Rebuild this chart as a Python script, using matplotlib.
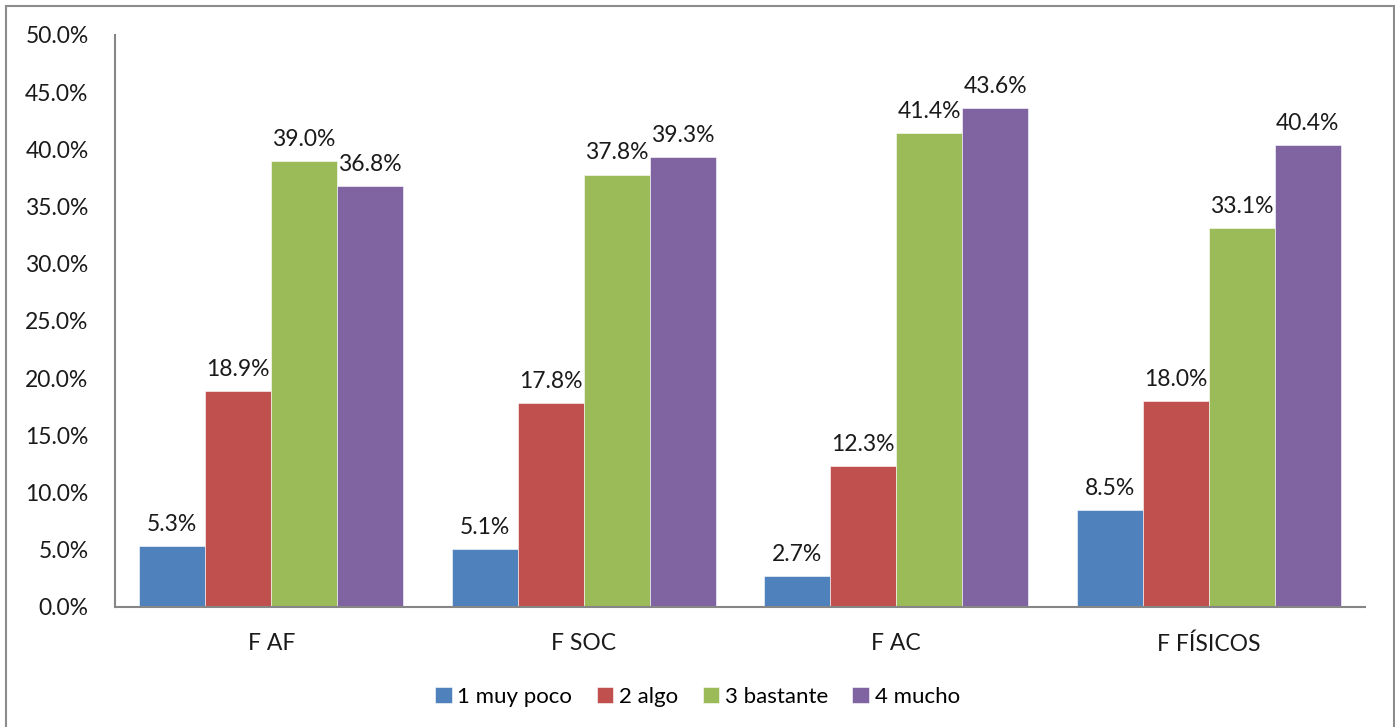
import numpy as np
import matplotlib.pyplot as plt
from matplotlib.patches import Rectangle
from matplotlib.ticker import FuncFormatter

plt.rcParams['font.family'] = ['Lato', 'DejaVu Sans']

categories = ['F AF', 'F SOC', 'F AC', 'F FÍSICOS']
series = ['1 muy poco', '2 algo', '3 bastante', '4 mucho']
muy_poco = [5.3, 5.1, 2.7, 8.5]
algo     = [18.9, 17.8, 12.3, 18.0]
bastante = [39.0, 37.8, 41.4, 33.1]
mucho    = [36.8, 39.3, 43.6, 40.4]
colors = ['#4F81BD', '#C0504D', '#9BBB59', '#8064A2']

fig = plt.figure(figsize=(13.95, 7.27), dpi=100)
ax = fig.add_axes([0.0824, 0.1651, 0.8961, 0.7868])

# marco gris alrededor del grafico
fig.patches.append(Rectangle((6 / 1395, -0.05), 1388 / 1395, 1 - 6 / 727 + 0.05,
                             transform=fig.transFigure, fill=False,
                             edgecolor='#8C8C8C', linewidth=1.5))

x = np.arange(len(categories))
width = 0.211
for i, (vals, name) in enumerate(zip([muy_poco, algo, bastante, mucho], series)):
    pos = x + (i - 1.5) * width
    bars = ax.bar(pos, vals, width, color=colors[i], label=name,
                  edgecolor='#FFFFFF', linewidth=0.4)
    for b, v in zip(bars, vals):
        ax.annotate(f'{v:.1f}%', (b.get_x() + b.get_width() / 2, v),
                    xytext=(0, 8), textcoords='offset points',
                    ha='center', va='bottom', fontsize=16.5, color='#1a1a1a')

ax.set_xlim(-0.5, 3.5)
ax.set_ylim(0, 50)
ax.set_yticks(np.arange(0, 50.1, 5))
ax.yaxis.set_major_formatter(FuncFormatter(lambda v, p: f'{v:.1f}%'))
ax.set_xticks(x)
ax.set_xticklabels(categories)
ax.tick_params(axis='both', length=0, labelsize=16.5, colors='#1a1a1a')
ax.tick_params(axis='y', pad=19)
ax.tick_params(axis='x', pad=19)

for s in ['top', 'right']:
    ax.spines[s].set_visible(False)
for s in ['left', 'bottom']:
    ax.spines[s].set_color('#868686')
    ax.spines[s].set_linewidth(1.5)

fig.legend(loc='center', bbox_to_anchor=(0.5, 1 - 697 / 727), ncol=4,
           frameon=False, fontsize=16, handlelength=0.75, handleheight=0.75,
           handletextpad=0.25, columnspacing=1.1)

fig.savefig('out.png', dpi=100)
